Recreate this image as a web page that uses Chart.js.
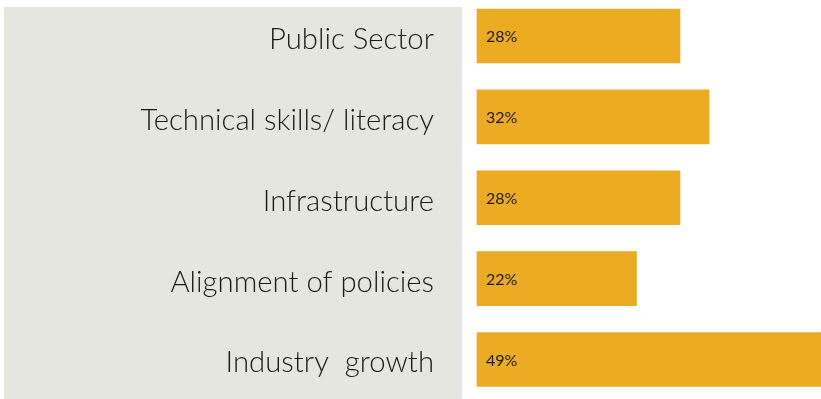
<!DOCTYPE html>
<html>
<head>
<meta charset="utf-8">
<script src="https://cdn.jsdelivr.net/npm/chart.js@4"></script>
<style>
  html, body { margin: 0; padding: 0; background: #ffffff; }
  #wrap { width: 821px; height: 399px; position: relative; }
</style>
</head>
<body>
<div id="wrap"><canvas id="chart"></canvas></div>
<script>
// Share of respondents naming each area
const categories = ['Public Sector', 'Technical skills/ literacy', 'Infrastructure', 'Alignment of policies', 'Industry  growth'];
const shares = [28, 32, 28, 22, 49];

const barColor = '#EBAC23';
const panelColor = '#E6E6E1';
const textColor = '#1A1A1A';
const fontFamily = 'Lato, "Open Sans", sans-serif';

// Grey band behind the category labels
const labelPanel = {
  id: 'labelPanel',
  beforeDraw(chart) {
    const { ctx, chartArea } = chart;
    ctx.save();
    ctx.fillStyle = panelColor;
    ctx.fillRect(4, 7, chartArea.left - 15 - 4, chart.height - 7);
    ctx.restore();
  }
};

// Percentage written inside the start of each bar
const barValues = {
  id: 'barValues',
  afterDatasetsDraw(chart) {
    const { ctx } = chart;
    const meta = chart.getDatasetMeta(0);
    ctx.save();
    ctx.fillStyle = textColor;
    ctx.font = '400 16px ' + fontFamily;
    ctx.textAlign = 'left';
    ctx.textBaseline = 'middle';
    meta.data.forEach((bar, i) => {
      ctx.fillText(shares[i] + '%', bar.base + 9, bar.y + 1);
    });
    ctx.restore();
  }
};

new Chart(document.getElementById('chart'), {
  type: 'bar',
  data: {
    labels: categories,
    datasets: [{
      data: shares,
      backgroundColor: barColor,
      borderWidth: 0,
      barThickness: 54,
      clip: false
    }]
  },
  options: {
    indexAxis: 'y',
    responsive: true,
    maintainAspectRatio: false,
    animation: false,
    layout: { padding: { top: 36, bottom: 39.5, left: 0, right: 0 } },
    plugins: { legend: { display: false }, tooltip: { enabled: false } },
    scales: {
      x: {
        display: false,
        min: 0,
        max: 47.45
      },
      y: {
        offset: false,
        grid: { display: false, drawTicks: false },
        border: { display: false },
        ticks: {
          color: textColor,
          font: { family: fontFamily, size: 29.3, weight: '300' },
          padding: 43,
          labelOffset: 3.5
        },
        afterFit(scale) {
          scale.width = 477;
          scale.paddingTop = 0;
          scale.paddingBottom = 0;
        }
      }
    }
  },
  plugins: [labelPanel, barValues]
});
</script>
</body>
</html>
